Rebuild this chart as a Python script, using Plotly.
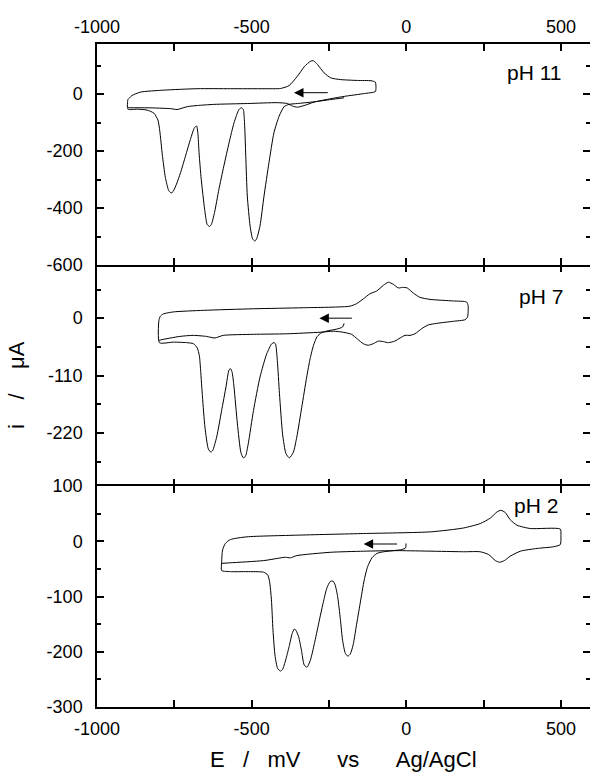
import plotly.graph_objects as go

# ---- Cyclic voltammograms, E in mV vs Ag/AgCl, i in µA ----

# pH 11
E_ph11 = [-201, -244, -298, -352, -379, -395, -411, -428, -444, -460, -473, -484, -490, -497,
          -505, -514, -519, -523, -527, -533, -541, -557, -573, -590, -606, -620, -630, -636,
          -644, -652, -663, -670, -674, -678, -685, -698, -714, -730, -743, -754, -760, -768,
          -779, -789, -797, -803, -816, -838, -870, -900,
          -900, -895, -887, -860, -784, -676, -568, -460, -406, -379, -352, -330, -309, -300,
          -287, -266, -244, -212, -158, -114, -100, -98, -100, -136, -201, -244, -298, -330,
          -352, -368, -384, -417, -514, -622, -676, -708, -741, -762, -838, -900]
I_ph11 = [-13, -19, -27, -33, -36, -44, -77, -136, -241, -358, -463, -508, -516, -508,
          -463, -358, -218, -101, -54, -48, -54, -101, -171, -253, -335, -416, -457, -465,
          -457, -404, -299, -206, -136, -112, -118, -159, -218, -276, -316, -342, -347, -339,
          -292, -211, -129, -91, -67, -56, -53, -53,
          -19, -13, -5, 7, 14, 19, 19, 19, 20, 30, 63, 96, 116, 117,
          104, 75, 57, 51, 48, 47, 42, 22, 9, 2, -8, -16, -28, -40,
          -46, -42, -33, -30, -33, -36, -40, -44, -54, -51, -48, -48]

# pH 7
E_ph7 = [-201, -206, -225, -252, -274, -288, -300, -311, -322, -338, -354, -365, -378, -389,
         -400, -410, -417, -423, -428, -435, -451, -473, -494, -511, -520, -527, -535, -546,
         -557, -563, -568, -573, -583, -597, -613, -626, -632, -640, -651, -659, -665, -669,
         -676, -688, -710, -753, -798,
         -800, -796, -786, -753, -656, -494, -333, -182, -160, -139, -117, -96, -74, -58,
         -42, -26, -12, 3, 23, 44, 77, 152, 195, 200, 198, 190, 152, 98, 71, 50, 28, 12,
         -4, -20, -37, -58, -74, -90, -107, -123, -139, -158, -177, -204, -236, -279, -387,
         -494, -592, -619, -646, -689, -732, -796, -800]
I_ph7 = [-10, -17, -21, -24, -28, -35, -52, -78, -113, -171, -228, -257, -268, -260,
         -222, -145, -81, -49, -47, -49, -68, -113, -177, -241, -265, -268, -257, -203,
         -132, -104, -97, -99, -132, -177, -228, -254, -257, -251, -209, -151, -100, -72,
         -57, -49, -47, -46, -47,
         -5, 3, 8, 12, 15, 18, 20, 23, 28, 37, 47, 52, 63, 69,
         65, 58, 59, 58, 48, 40, 36, 33, 31, 24, 2, -3, -6, -10, -13, -20, -30, -33,
         -33, -38, -44, -47, -45, -44, -49, -52, -49, -40, -31, -27, -25, -27, -30,
         -31, -33, -38, -35, -33, -35, -42, -43]

# pH 2
E_ph2 = [-1, -2, -14, -41, -73, -95, -111, -125, -136, -149, -162, -172, -181, -189, -197,
         -206, -213, -222, -230, -237, -246, -257, -269, -283, -297, -310, -321, -330, -339,
         -348, -357, -362, -369, -379, -390, -400, -407, -416, -424, -431, -436, -442, -448,
         -461, -515, -569, -597,
         -597, -594, -585, -569, -515, -354, -138, 78, 185, 239, 272, 293, 306, 320, 336,
         358, 401, 498, 500, 498, 476, 423, 369, 336, 317, 302, 288, 266, 239, 185, -30,
         -138, -246, -354, -375, -391, -461, -569, -597]
I_ph2 = [-4, -12, -15, -17, -19, -22, -30, -46, -70, -112, -155, -188, -204, -208, -203,
         -179, -142, -100, -79, -72, -73, -85, -112, -148, -185, -215, -228, -224, -197,
         -173, -161, -159, -167, -191, -215, -232, -235, -230, -209, -161, -106, -73, -61,
         -56, -55, -55, -53,
         -38, -16, -4, 3, 8, 11, 14, 17, 24, 32, 42, 53, 56, 52, 39,
         29, 23, 22, 10, -6, -10, -13, -18, -27, -35, -38, -35, -24, -19, -19, -17,
         -18, -20, -26, -30, -29, -35, -39, -40]

# scan-direction arrows: (tail E, head E, i)
ARROW_PH11 = (-249, -363, 5)
ARROW_PH7 = (-171, -281, 0)
ARROW_PH2 = (-25, -138, -5)

# axes
E_RANGE = [-1000, 594]
X_TICKS = [-1000, -500, 0, 500]
X_TICK_TEXT = ["-1000", "-500", "0", "500"]
X_MINOR = [-750, -250, 250]

Y1_RANGE = [-600, 176]
Y1_TICKS = [0, -200, -400, -600]
Y1_TEXT = ["0", "-200", "-400", "-600"]
Y1_MINOR = [100, -100, -300, -500]

Y2_RANGE = [-322, 102]
Y2_TICKS = [0, -110, -220]
Y2_TEXT = ["0", "-110", "-220"]
Y2_MINOR = [55, -55, -165, -275]

Y3_RANGE = [-300, 100]
Y3_TICKS = [100, 0, -100, -200, -300]
Y3_TEXT = ["100", "0", "-100", "-200", "-300"]
Y3_MINOR = [50, -50, -150, -250]

FONT = "Liberation Sans, Arial, sans-serif"
TICK_FONT = dict(family=FONT, size=18, color="black")
LINE_W = 1.5

fig = go.Figure()
panels = [("", E_ph11, I_ph11), ("2", E_ph7, I_ph7), ("3", E_ph2, I_ph2)]
for sfx, e, i in panels:
    fig.add_trace(go.Scatter(x=e, y=i, mode="lines",
                             line=dict(color="black", width=1, shape="spline", smoothing=0.6),
                             xaxis="x" + sfx, yaxis="y" + sfx, showlegend=False,
                             hoverinfo="skip"))
# empty traces carrying the right-hand tick axes
for k, sfx in zip((4, 5, 6), ("", "2", "3")):
    fig.add_trace(go.Scatter(x=[], y=[], xaxis="x" + sfx, yaxis="y%d" % k,
                             showlegend=False, hoverinfo="skip"))


def xaxis(anchor, side, labels, line, standoff):
    return dict(domain=[0, 1], anchor=anchor, side=side, range=E_RANGE,
                tickmode="array", tickvals=X_TICKS, ticktext=X_TICK_TEXT,
                showticklabels=labels, ticks="inside", ticklen=7, tickwidth=LINE_W,
                tickcolor="black", showline=line, linewidth=LINE_W, linecolor="black",
                mirror="allticks", showgrid=False, zeroline=False, tickfont=TICK_FONT,
                ticklabelstandoff=standoff,
                minor=dict(tickvals=X_MINOR, ticks="inside", ticklen=4,
                           tickwidth=LINE_W, tickcolor="black", showgrid=False))


def yaxis(domain, anchor, rng, ticks, text, minor):
    return dict(domain=domain, anchor=anchor, range=rng, tickmode="array",
                tickvals=ticks, ticktext=text, ticks="inside", ticklen=7,
                tickwidth=LINE_W, tickcolor="black", showline=True,
                linewidth=LINE_W, linecolor="black", showgrid=False, zeroline=False,
                tickfont=TICK_FONT, ticklabelstandoff=9,
                minor=dict(tickvals=minor, ticks="inside", ticklen=4,
                           tickwidth=LINE_W, tickcolor="black", showgrid=False))


def yright(over, anchor, rng, ticks, minor):
    return dict(overlaying=over, side="right", anchor=anchor, range=rng,
                tickmode="array", tickvals=ticks, ticks="inside", ticklen=7,
                tickwidth=LINE_W, tickcolor="black", showticklabels=False,
                showline=False, showgrid=False, zeroline=False,
                minor=dict(tickvals=minor, ticks="inside", ticklen=4,
                           tickwidth=LINE_W, tickcolor="black", showgrid=False))


third = 1 / 3
fig.update_layout(
    width=590, height=773,
    margin=dict(l=97, r=0, t=44, b=66),
    paper_bgcolor="white", plot_bgcolor="white",
    xaxis=xaxis("y", "top", True, True, 2),
    xaxis2=xaxis("y2", "bottom", False, False, 8),
    xaxis3=xaxis("y3", "bottom", True, True, 5),
    yaxis=yaxis([2 * third, 1], "x", Y1_RANGE, Y1_TICKS, Y1_TEXT, Y1_MINOR),
    yaxis2=yaxis([third, 2 * third], "x2", Y2_RANGE, Y2_TICKS, Y2_TEXT, Y2_MINOR),
    yaxis3=yaxis([0, third], "x3", Y3_RANGE, Y3_TICKS, Y3_TEXT, Y3_MINOR),
    yaxis4=yright("y", "x", Y1_RANGE, Y1_TICKS, Y1_MINOR),
    yaxis5=yright("y2", "x2", Y2_RANGE, Y2_TICKS, Y2_MINOR),
    yaxis6=yright("y3", "x3", Y3_RANGE, Y3_TICKS, Y3_MINOR),
)

LABEL_FONT = dict(family=FONT, size=21, color="black")
TITLE_FONT = dict(family=FONT, size=22, color="black")
nb = "\u00a0"
ann = [
    dict(xref="x", yref="y", x=508, y=77, text="pH 11", showarrow=False,
         xanchor="right", yanchor="middle", font=LABEL_FONT),
    dict(xref="x2", yref="y2", x=514, y=41, text="pH 7", showarrow=False,
         xanchor="right", yanchor="middle", font=LABEL_FONT),
    dict(xref="x3", yref="y3", x=498, y=64, text="pH 2", showarrow=False,
         xanchor="right", yanchor="middle", font=LABEL_FONT),
    dict(xref="paper", yref="paper", x=0.5, y=-0.0785,
         text="E" + nb * 3 + "/" + nb * 3 + "mV" + nb * 6 + "vs" + nb * 6 + "Ag/AgCl",
         showarrow=False, xanchor="center", yanchor="middle", font=TITLE_FONT),
    dict(xref="paper", yref="paper", x=-0.162, y=0.486,
         text="i" + nb * 4 + "/" + nb * 4 + "μA", textangle=-90,
         showarrow=False, xanchor="center", yanchor="middle", font=TITLE_FONT),
]
for sfx, (tail, head, yv) in zip(("", "2", "3"), (ARROW_PH11, ARROW_PH7, ARROW_PH2)):
    ann.append(dict(xref="x" + sfx, yref="y" + sfx, axref="x" + sfx, ayref="y" + sfx,
                    x=head, y=yv, ax=tail, ay=yv, text="", showarrow=True,
                    arrowhead=2, arrowsize=1.9, arrowwidth=1, arrowcolor="black"))
fig.update_layout(annotations=ann)

fig.write_html("out.html")
